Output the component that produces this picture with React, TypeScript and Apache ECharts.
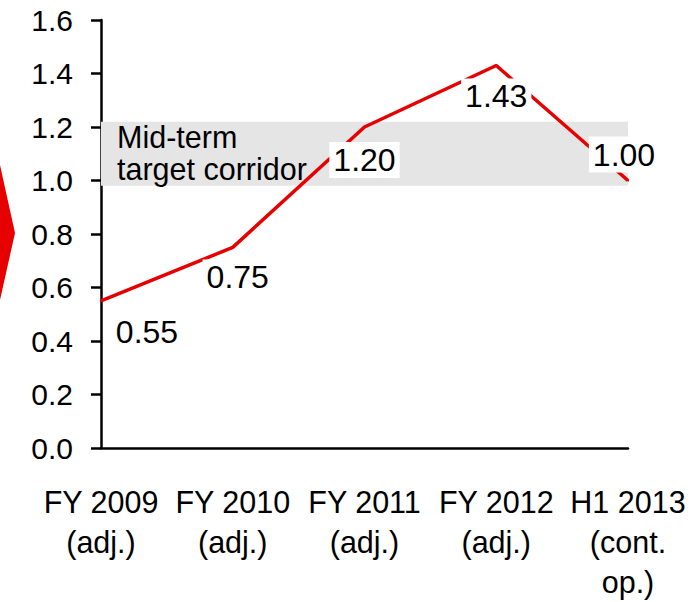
import React, { useEffect, useRef } from "react";
import * as echarts from "echarts";

const categories = [
  "FY 2009\n(adj.)",
  "FY 2010\n(adj.)",
  "FY 2011\n(adj.)",
  "FY 2012\n(adj.)",
  "H1 2013\n(cont.\nop.)",
];
const values = [0.55, 0.75, 1.2, 1.43, 1.0];
const corridor = [0.98, 1.22];
const corridorLabel = "Mid-term\ntarget corridor";

const FONT = "'Liberation Sans', Arial, sans-serif";
const RED = "#e60000";

const labelStyles = [
  { position: "bottom", distance: 12, offset: [46, 0] },
  { position: "bottom", distance: 11, offset: [5, 0] },
  { position: "bottom", distance: 14, offset: [0, 0] },
  { position: "bottom", distance: 12, offset: [0, 0] },
  { position: "top", distance: 7, offset: [-4, 0] },
];

export default function App() {
  const ref = useRef<HTMLDivElement>(null);
  useEffect(() => {
    if (!ref.current) return;
    const chart = echarts.init(ref.current, null, { renderer: "svg" });
    chart.setOption({
      animation: false,
      backgroundColor: "#fff",
      grid: { left: 101, right: 64, top: 20, bottom: 144, containLabel: false },
      graphic: [
        {
          type: "polygon",
          shape: { points: [[-4, 147], [15, 233], [-4, 318]] },
          style: { fill: RED },
        },
      ],
      xAxis: {
        type: "category",
        data: categories,
        boundaryGap: false,
        axisLine: { lineStyle: { color: "#000", width: 2.5 } },
        axisTick: { show: false },
        axisLabel: {
          color: "#000",
          fontFamily: FONT,
          fontSize: 30.5,
          lineHeight: 40,
          margin: 34,
          interval: 0,
        },
        splitLine: { show: false },
      },
      yAxis: {
        type: "value",
        min: 0,
        max: 1.6,
        interval: 0.2,
        axisLine: { show: true, lineStyle: { color: "#000", width: 2.5 } },
        axisTick: { show: true, length: 10, lineStyle: { color: "#000", width: 2.5 } },
        axisLabel: {
          color: "#000",
          fontFamily: FONT,
          fontSize: 30,
          margin: 28,
          formatter: (v: number) => v.toFixed(1),
        },
        splitLine: { show: false },
      },
      series: [
        {
          type: "line",
          data: values.map((v, i) => ({
            value: v,
            label: labelStyles[i],
          })),
          symbol: "circle",
          symbolSize: 2,
          showSymbol: true,
          itemStyle: { color: RED },
          lineStyle: { color: RED, width: 3.5 },
          z: 3,
          label: {
            show: true,
            color: "#000",
            fontFamily: FONT,
            fontSize: 32,
            backgroundColor: "#fff",
            padding: [2, 4, 2, 4],
            formatter: (p: any) => Number(p.value).toFixed(2),
          },
          markArea: {
            silent: true,
            itemStyle: { color: "#e5e5e5" },
            label: {
              show: true,
              position: [16, -1],
              color: "#000",
              fontFamily: FONT,
              fontSize: 30.5,
              lineHeight: 32,
              formatter: corridorLabel,
            },
            data: [
              [
                { xAxis: categories[0], yAxis: corridor[0] },
                { xAxis: categories[categories.length - 1], yAxis: corridor[1] },
              ],
            ],
          },
        },
      ],
    });
    return () => chart.dispose();
  }, []);
  return (
    <div
      ref={ref}
      style={{ position: "fixed", left: 0, top: 0, width: 692, height: 602 }}
    />
  );
}
